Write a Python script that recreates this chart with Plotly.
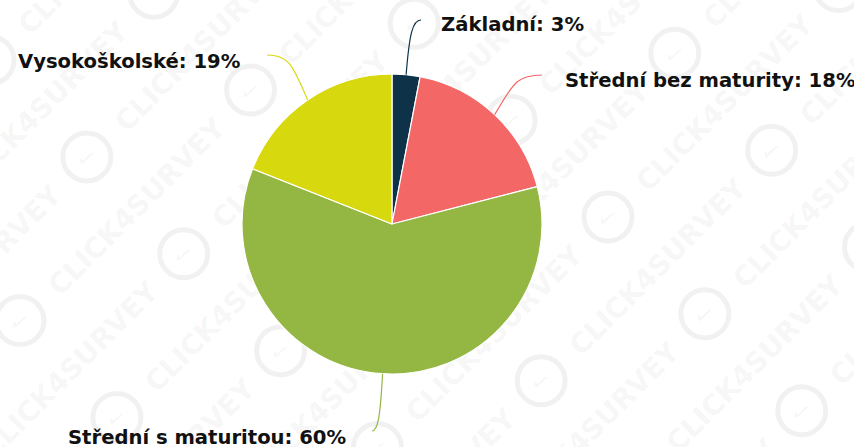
import math
import plotly.graph_objects as go

# ---- data ----
categories = ["Základní", "Střední bez maturity", "Střední s maturitou", "Vysokoškolské"]
values = [3, 18, 60, 19]
colors = ["#0e3349", "#f46767", "#93b742", "#d8d80e"]

# ---- layout constants (pixels) ----
W, H = 854, 447
CX, CY, R = 392, 224, 150

def px(x):
    return x / W

def py(y):
    return 1 - y / H

fig = go.Figure()
fig.add_trace(go.Pie(
    labels=categories, values=values, sort=False, direction="clockwise", rotation=0,
    marker=dict(colors=colors, line=dict(color="white", width=1.2)),
    textinfo="none", hoverinfo="label+percent", showlegend=False,
    domain=dict(x=[px(CX - R), px(CX + R)], y=[py(CY + R), py(CY - R)]),
))

# label placement: (anchor x, y center, xanchor, connector end x, end y)
label_pos = [
    (439, 25, "left", 421, 20),
    (563, 81, "left", 542, 75),
    (348, 437, "right", 372, 431),
    (243, 62, "right", 267, 55),
]

total = sum(values)
cum = 0
shapes = []
annotations = []

# watermark (background, below the pie): tiled "(logo) CLICK4SURVEY" at 45 degrees
ux, uy = math.sqrt(0.5), -math.sqrt(0.5)
nx, ny = math.sqrt(0.5), math.sqrt(0.5)
WM = "rgba(0,0,0,0.055)"

def text_shape(x, y, text, size, angle, bold):
    return dict(
        type="rect", xref="paper", yref="paper", layer="below",
        x0=px(x - 1), x1=px(x + 1), y0=py(y + 1), y1=py(y - 1),
        line=dict(width=0), fillcolor="rgba(0,0,0,0)",
        label=dict(text=text, textangle=angle, textposition="middle center",
                   font=dict(family="DejaVu Sans", size=size, color=WM,
                             weight="bold" if bold else "normal")),
    )

for i in range(-14, 15):
    for j in range(-6, 7):
        s = j * 326 + (i % 2) * 163
        lx = 608 + i * 68.5 * nx + s * ux
        ly = 217 + i * 68.5 * ny + s * uy
        tx = lx + 163 * ux
        ty = ly + 163 * uy
        if -150 < tx < W + 150 and -150 < ty < H + 150:
            shapes.append(text_shape(tx, ty, "CLICK4SURVEY", 28, -45, True))
        if -40 < lx < W + 40 and -40 < ly < H + 40:
            r = 24
            shapes.append(dict(
                type="circle", xref="paper", yref="paper", layer="below",
                x0=px(lx - r), x1=px(lx + r), y0=py(ly + r), y1=py(ly - r),
                line=dict(color=WM, width=5),
            ))
            shapes.append(text_shape(lx, ly, "✓", 24, 10, False))

for cat, val, col, (lx, ly, xa, ex, ey) in zip(categories, values, colors, label_pos):
    mid = (cum + val / 2) / total * 2 * math.pi
    cum += val
    sx = CX + R * math.sin(mid)
    sy = CY - R * math.cos(mid)
    c1x = sx + (ex - sx) * 0.1 + (math.sin(mid) * 20)
    c1y = sy - math.cos(mid) * 20 + (ey - sy) * 0.4
    c2x = sx + (ex - sx) * 0.45
    c2y = ey
    path = "M {:.5f},{:.5f} C {:.5f},{:.5f} {:.5f},{:.5f} {:.5f},{:.5f}".format(
        px(sx), py(sy), px(c1x), py(c1y), px(c2x), py(c2y), px(ex), py(ey))
    shapes.append(dict(type="path", xref="paper", yref="paper", path=path,
                       line=dict(color=col, width=1.2)))
    annotations.append(dict(
        x=px(lx), y=py(ly), xref="paper", yref="paper", showarrow=False,
        xanchor=xa, yanchor="middle",
        text=f"{cat}: {val}%",
        font=dict(family="DejaVu Sans", size=19.6, color="#111111", weight="bold"),
    ))

fig.update_layout(
    width=W, height=H, margin=dict(l=0, r=0, t=0, b=0),
    paper_bgcolor="white", plot_bgcolor="white",
    shapes=shapes, annotations=annotations, showlegend=False,
)

fig.write_html("out.html", config={"displayModeBar": False, "staticPlot": True},
               post_script="document.body.style.margin='0';document.body.style.overflow='hidden';")
